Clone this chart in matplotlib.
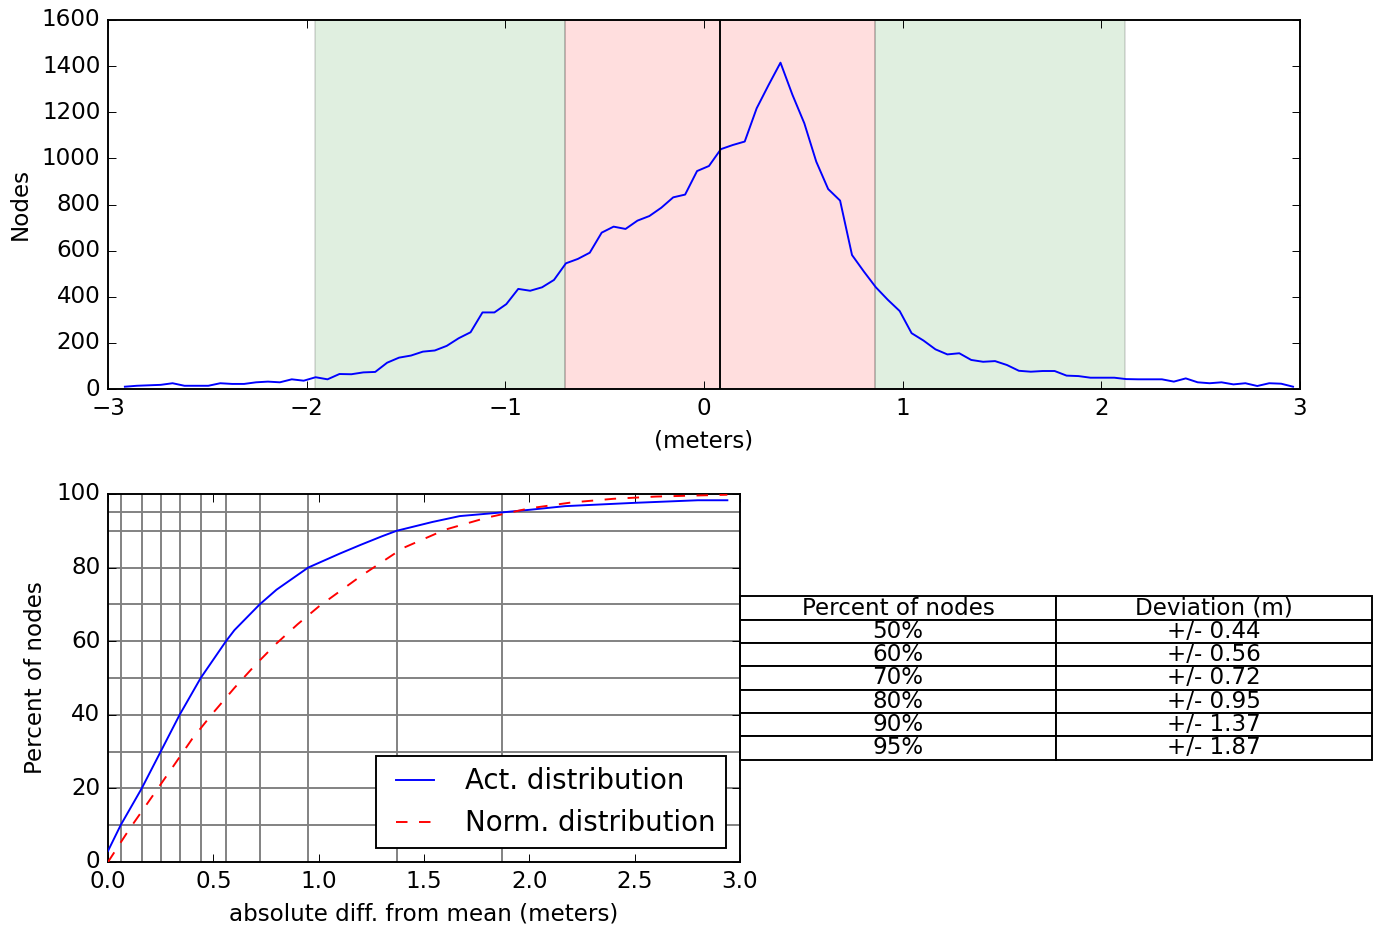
import numpy as np
import matplotlib
matplotlib.use("Agg")
import matplotlib.pyplot as plt

plt.style.use("classic")

# --- Histogram of node offsets (meters) ---
bin_centers = np.linspace(-2.915, 2.965, 99)
node_counts = [
    10, 14, 16, 18, 25, 14, 14, 14, 25, 22,
    22, 29, 32, 29, 42, 36, 51, 42, 65, 64,
    72, 74, 114, 136, 145, 162, 167, 187, 220, 246,
    332, 332, 368, 434, 426, 441, 473, 545, 564, 591,
    678, 704, 694, 730, 750, 786, 831, 843, 945, 967,
    1040, 1058, 1073, 1217, 1318, 1415, 1276, 1152, 986, 867,
    817, 581, 509, 441, 387, 338, 242, 210, 172, 150,
    155, 126, 118, 121, 104, 79, 75, 78, 78, 58,
    56, 49, 49, 49, 43, 42, 42, 42, 32, 46,
    29, 25, 29, 20, 25, 13, 25, 23, 10,
]
mean_offset = 0.08
inner_band = (-0.70, 0.86)
outer_band = (-1.96, 2.12)

# --- Cumulative share of nodes vs absolute deviation ---
act_dev = [0.0, 0.06, 0.16, 0.25, 0.34, 0.44, 0.56, 0.60, 0.72, 0.80, 0.90,
           0.95, 1.10, 1.20, 1.30, 1.37, 1.54, 1.67, 1.87, 2.00, 2.17, 2.50,
           2.80, 2.94]
act_pct = [3, 10, 20, 30, 40, 50, 60, 63, 70, 74, 78,
           80, 83.8, 86.2, 88.5, 90, 92.4, 94, 95, 95.7, 96.7, 97.6,
           98.3, 98.3]
norm_dev = [0.0, 0.1, 0.2, 0.3, 0.4, 0.5, 0.6, 0.7, 0.8, 0.9, 1.0, 1.2,
            1.4, 1.6, 1.8, 2.0, 2.2, 2.4, 2.6, 2.8, 2.94]
norm_pct = [0, 8.8, 17, 25.2, 33.5, 40.6, 47.3, 53.6, 59.4, 64.6, 69.4, 77.7,
            85.3, 90.3, 93.6, 96.1, 97.7, 98.7, 99.3, 99.6, 99.8]

# Percentile levels and the deviation that covers each one
pct_levels = [10, 20, 30, 40, 50, 60, 70, 80, 90, 95]
pct_devs = [0.06, 0.16, 0.25, 0.34, 0.44, 0.56, 0.72, 0.95, 1.37, 1.87]
table_levels = [50, 60, 70, 80, 90, 95]

DPI = 138
fig = plt.figure(figsize=(1383 / DPI, 931 / DPI), dpi=DPI, facecolor="white")

# ---------------- top: histogram ----------------
ax1 = fig.add_axes([108 / 1383, 1 - 389 / 931, 1192 / 1383, 369 / 931])
ax1.axvspan(outer_band[0], inner_band[0], facecolor="g", alpha=0.12)
ax1.axvspan(inner_band[1], outer_band[1], facecolor="g", alpha=0.12)
ax1.axvspan(inner_band[0], inner_band[1], facecolor="r", alpha=0.13)
ax1.plot(bin_centers, node_counts, color="b", lw=1.0)
ax1.axvline(mean_offset, color="k", lw=1.0)
ax1.set_xlim(-3, 3)
ax1.set_ylim(0, 1600)
ax1.set_xticks([-3, -2, -1, 0, 1, 2, 3])
ax1.set_yticks(range(0, 1601, 200))
ax1.set_ylabel("Nodes")
ax1.set_xlabel("(meters)")

# ---------------- bottom: cumulative curves ----------------
ax2 = fig.add_axes([108 / 1383, 1 - 862 / 931, 632 / 1383, 368 / 931])
for p, d in zip(pct_levels, pct_devs):
    ax2.axhline(p, color="gray", lw=1.0, zorder=1)
    ax2.axvline(d, color="gray", lw=1.0, zorder=1)
ax2.plot(act_dev, act_pct, color="b", lw=1.0, label="Act. distribution", zorder=3)
ax2.plot(norm_dev, norm_pct, color="r", lw=1.0, ls="--",
         label="Norm. distribution", zorder=3)
ax2.set_xlim(0, 3)
ax2.set_ylim(0, 100)
ax2.set_xticks(np.arange(0, 3.01, 0.5))
ax2.set_yticks(range(0, 101, 20))
ax2.set_xlabel("absolute diff. from mean (meters)")
ax2.set_ylabel("Percent of nodes")
ax2.legend(loc="lower right", fontsize="large")

rows = [[f"{p}%", f"+/- {d:.2f}"] for p, d in zip(pct_levels, pct_devs)
        if p in table_levels]
tbl = ax2.table(cellText=rows, colLabels=["Percent of nodes", "Deviation (m)"],
                loc="right", cellLoc="center", colWidths=[0.5, 0.5])
tbl.auto_set_font_size(False)
tbl.set_fontsize(12)
row_h = 23.3 / 368
for (r, c), cell in tbl.get_celld().items():
    cell.set_height(row_h)

fig.savefig("out.png", dpi=DPI, facecolor="white")
